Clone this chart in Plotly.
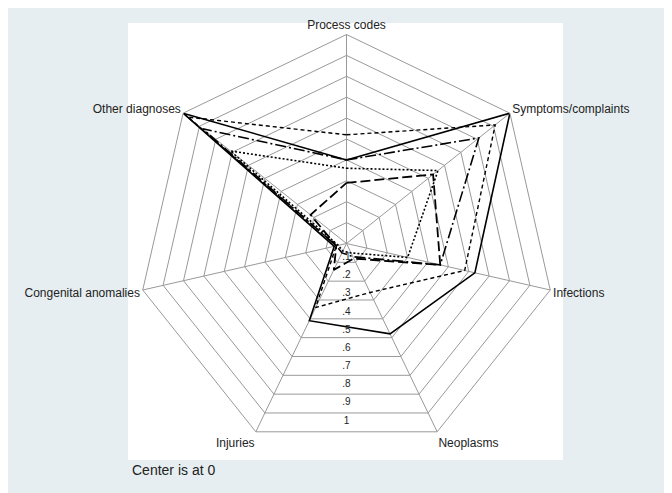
import math
import plotly.graph_objects as go

# categorias del radar (en sentido horario desde arriba)
categories = ["Process codes", "Symptoms/complaints", "Infections", "Neoplasms",
              "Injuries", "Congenital anomalies", "Other diagnoses"]

# valores, una lista por serie
solid_vals = [0.40, 1.00, 0.63, 0.48, 0.41, 0.06, 1.00]
shortdash_vals = [0.52, 0.91, 0.58, 0.26, 0.34, 0.05, 0.97]
dashdot_vals = [0.40, 0.81, 0.46, 0.07, 0.05, 0.05, 0.88]
longdash_vals = [0.29, 0.53, 0.46, 0.08, 0.14, 0.05, 0.22]
dotted_vals = [0.36, 0.56, 0.30, 0.05, 0.04, 0.04, 0.71]

tick_vals = [0.1, 0.2, 0.3, 0.4, 0.5, 0.6, 0.7, 0.8, 0.9, 1.0]
tick_text = [".1", ".2", ".3", ".4", ".5", ".6", ".7", ".8", ".9", "1"]

series = [
    (solid_vals, "solid", 1.6),
    (shortdash_vals, "4px,3px", 1.4),
    (dashdot_vals, "11px,3px,2px,3px", 1.6),
    (longdash_vals, "10px,4px", 1.8),
    (dotted_vals, "2px,2px", 1.6),
]

GRID = "#999999"
FONT = "Liberation Sans, Arial, sans-serif"
W, H = 672, 493
# la pagina deja 8px de margen en el body, asi que se compensa aqui
OFF = 8

def px_x(v):
    return (v - OFF) / W

def px_y(v):
    return 1 - (v - OFF) / H

fig = go.Figure()
for vals, dash, w in series:
    fig.add_trace(go.Scatterpolar(
        r=vals + vals[:1], theta=categories + categories[:1],
        mode="lines", line=dict(color="black", width=w, dash=dash),
        subplot="polar", showlegend=False, hoverinfo="skip"))

# etiquetas del eje radial, hacia abajo entre Neoplasms e Injuries
fig.add_trace(go.Scatterpolar(
    r=[v * 0.87 - 0.02 for v in tick_vals], theta=[180] * len(tick_vals),
    mode="text", text=tick_text, textfont=dict(size=10, color="#222", family=FONT),
    subplot="polar2", showlegend=False, hoverinfo="skip"))

cx, cy, R = 346.5, 243.5, 209
dom_x = [px_x(cx - R), px_x(cx + R)]
dom_y = [px_y(cy + R), px_y(cy - R)]

fig.update_layout(
    width=W, height=H,
    margin=dict(l=0, r=0, t=0, b=0),
    paper_bgcolor="#e7eef1",
    font=dict(family=FONT, color="#222"),
    polar=dict(
        domain=dict(x=dom_x, y=dom_y),
        gridshape="linear", bgcolor="rgba(0,0,0,0)",
        angularaxis=dict(rotation=90, direction="clockwise", showline=True,
                         linecolor=GRID, linewidth=1, gridcolor=GRID, gridwidth=1,
                         ticks="", tickfont=dict(size=12, color="#222")),
        radialaxis=dict(range=[0, 1], tickvals=tick_vals, showticklabels=False,
                        showline=False, ticks="", gridcolor=GRID, gridwidth=1),
    ),
    polar2=dict(
        domain=dict(x=dom_x, y=dom_y),
        bgcolor="rgba(0,0,0,0)",
        angularaxis=dict(rotation=90, direction="clockwise", showline=False,
                         showgrid=False, showticklabels=False, ticks=""),
        radialaxis=dict(range=[0, 1], visible=False),
    ),
    shapes=[
        dict(type="rect", xref="paper", yref="paper", layer="below",
             x0=px_x(128), x1=px_x(563), y0=px_y(460), y1=px_y(23),
             fillcolor="white", line=dict(width=0)),
    ],
    annotations=[
        dict(text="Center is at 0", xref="paper", yref="paper",
             x=px_x(130), y=px_y(470), xanchor="left", yanchor="middle",
             showarrow=False, font=dict(size=14, color="#222")),
    ],
)

fig.write_html("out.html")
